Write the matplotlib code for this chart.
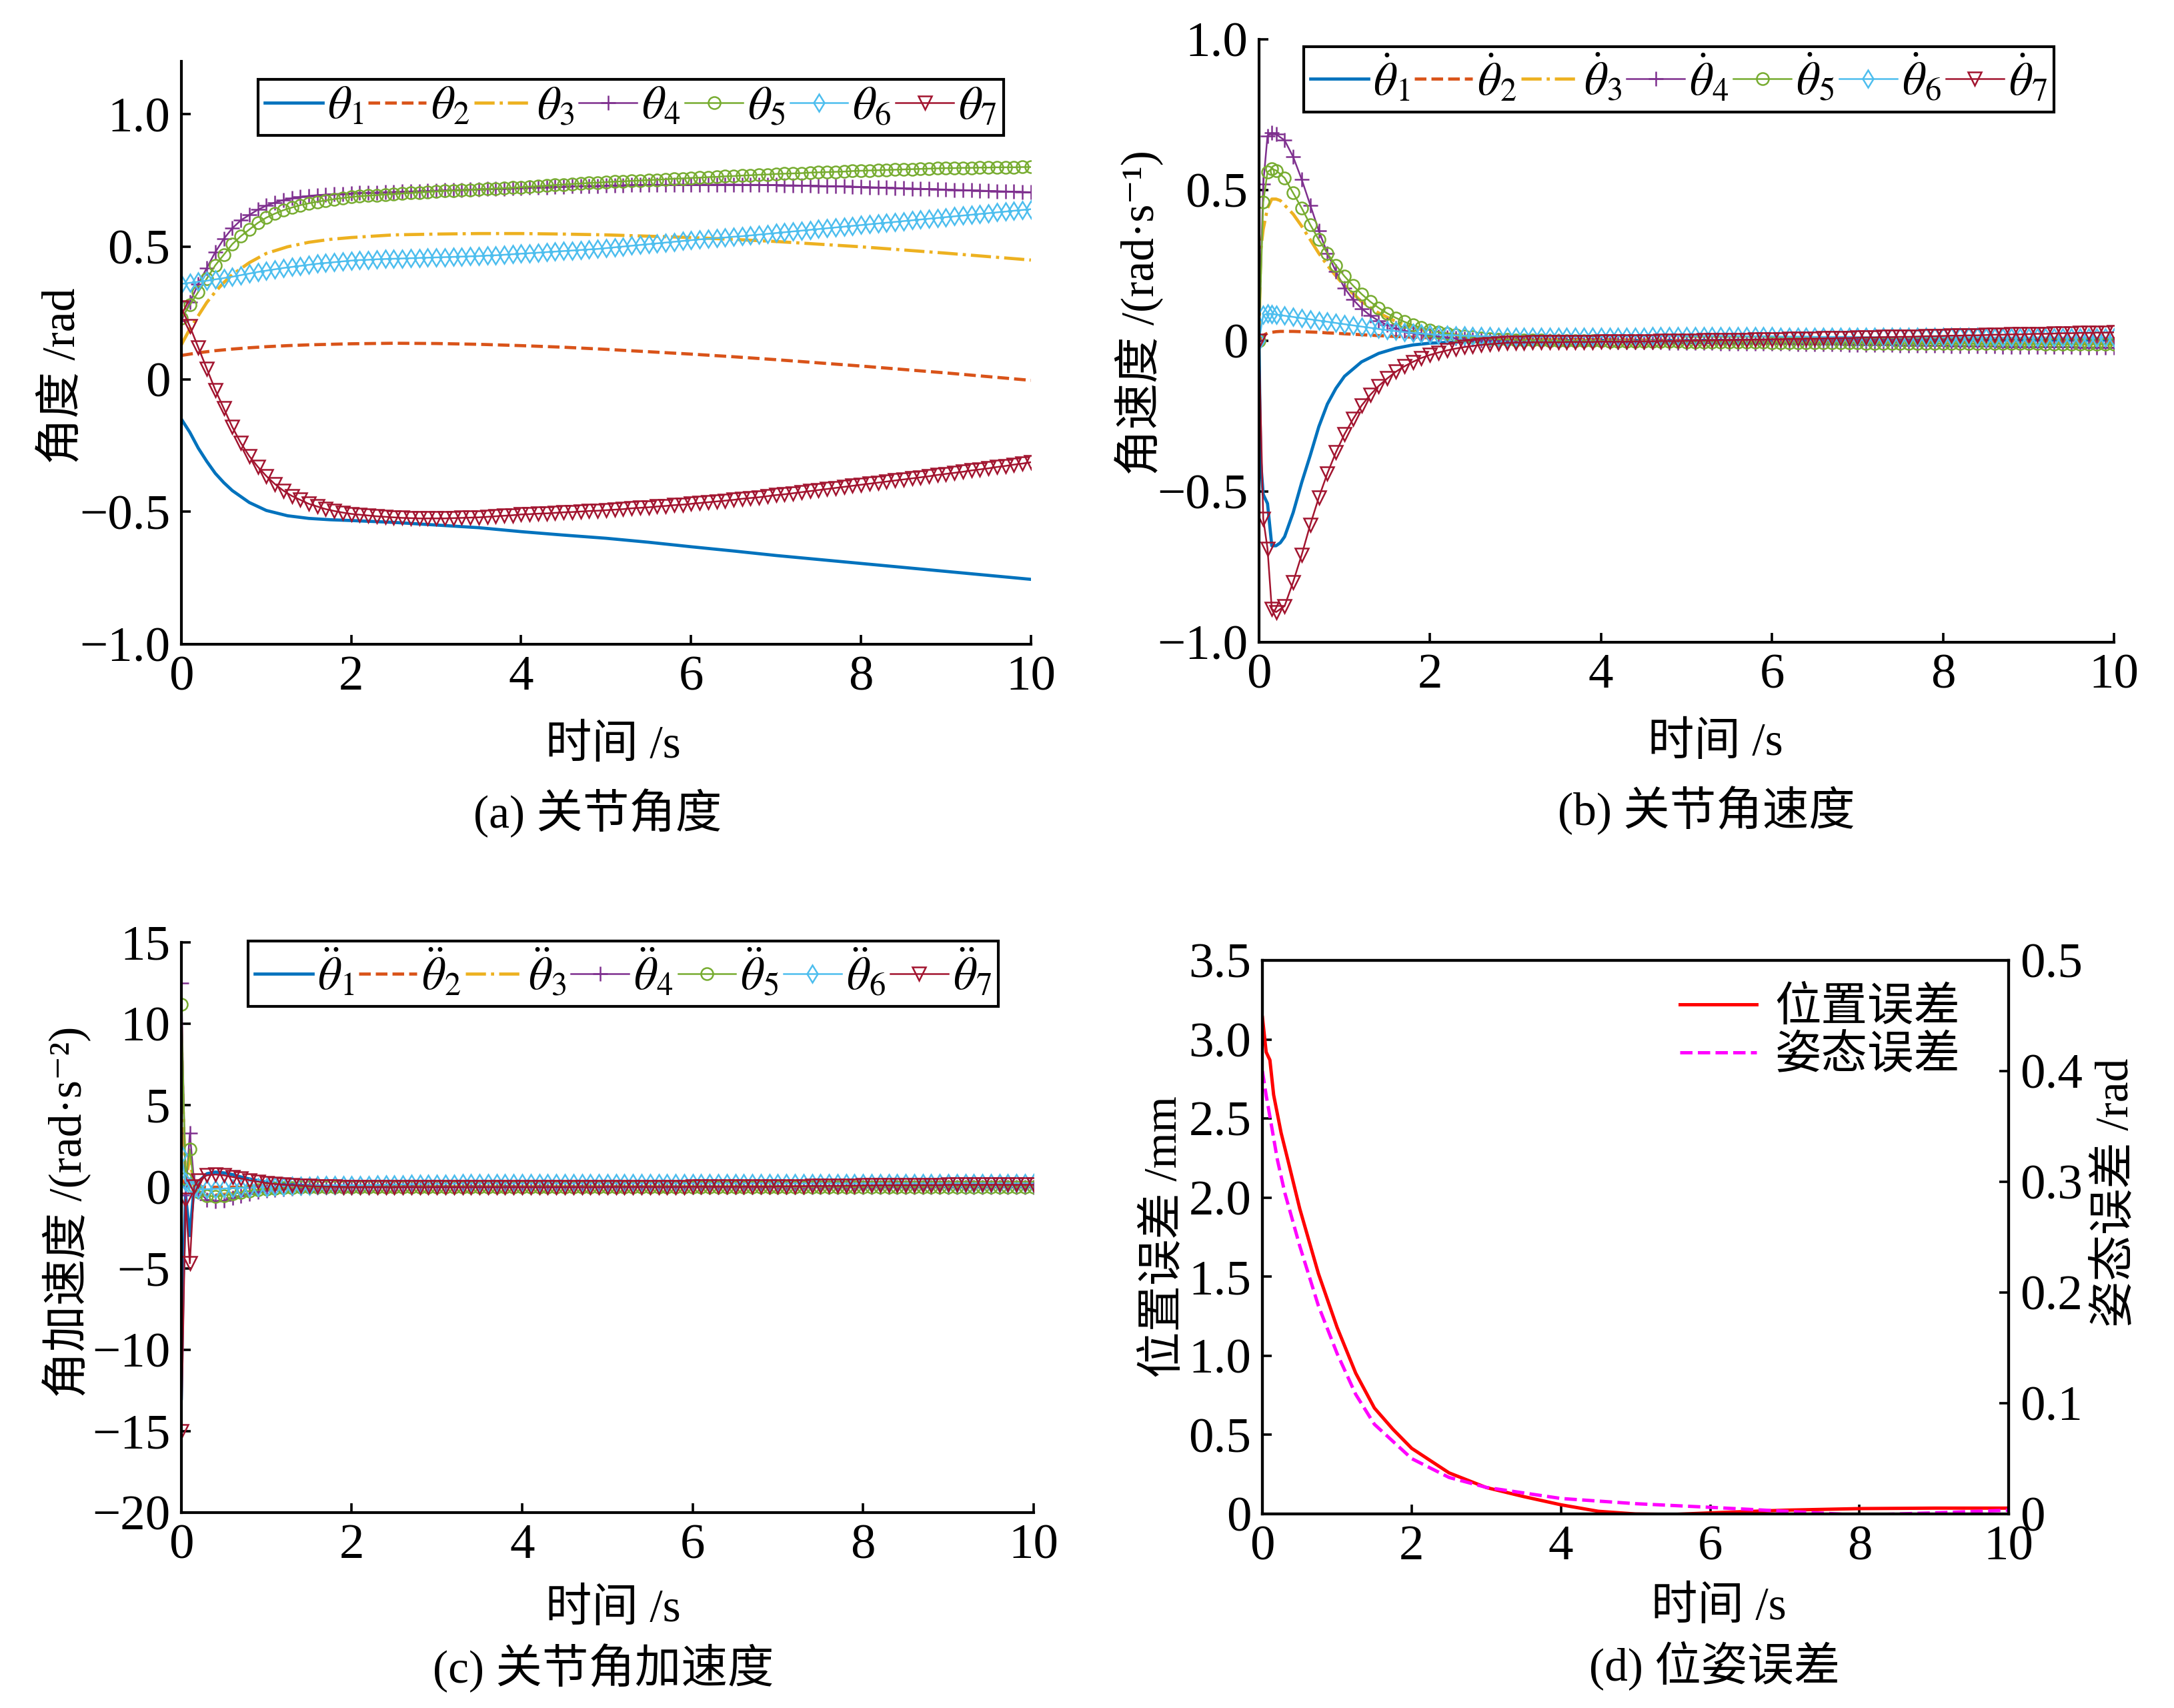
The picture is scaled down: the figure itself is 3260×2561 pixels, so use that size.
import numpy as np
import matplotlib
matplotlib.use("Agg")
import matplotlib.pyplot as plt
from matplotlib.ticker import FuncFormatter

plt.rcParams["font.family"] = ["Liberation Serif", "Noto Sans CJK SC", "DejaVu Serif"]
plt.rcParams["mathtext.fontset"] = "stix"

colors = ["#0072BD", "#D95319", "#EDB120", "#7E2F8E", "#77AC30", "#4DBEEE", "#A2142F"]

# ---------------- (a) joint angle ----------------
t_a_line = [0, 0.1, 0.2, 0.3, 0.4, 0.5, 0.6, 0.8, 1.0, 1.25, 1.5, 1.75, 2, 2.5, 3, 3.5,
            4, 4.5, 5, 5.5, 6, 6.5, 7, 7.5, 8, 8.5, 9, 9.5, 10]
a_th1 = [-0.15, -0.2, -0.26, -0.31, -0.355, -0.39, -0.42, -0.465, -0.495, -0.515, -0.525,
         -0.53, -0.533, -0.54, -0.55, -0.56, -0.575, -0.588, -0.6, -0.615, -0.632, -0.648,
         -0.665, -0.68, -0.695, -0.71, -0.725, -0.74, -0.755]
a_th2 = [0.09, 0.095, 0.1, 0.104, 0.108, 0.111, 0.114, 0.119, 0.123, 0.127, 0.13, 0.132,
         0.134, 0.136, 0.135, 0.132, 0.127, 0.121, 0.113, 0.104, 0.095, 0.085, 0.074, 0.062,
         0.05, 0.037, 0.024, 0.01, -0.004]
a_th3 = [0.13, 0.19, 0.24, 0.29, 0.33, 0.365, 0.395, 0.44, 0.475, 0.5, 0.517, 0.528, 0.535,
         0.545, 0.548, 0.55, 0.55, 0.548, 0.545, 0.54, 0.535, 0.528, 0.52, 0.51, 0.5, 0.488,
         0.476, 0.463, 0.45]

t_a = np.linspace(0, 10, 101)
a_th4 = [0.22, 0.29, 0.36, 0.42, 0.48, 0.53, 0.57, 0.60, 0.62, 0.64,
         0.655, 0.667, 0.676, 0.683, 0.688, 0.692, 0.695, 0.697, 0.699, 0.700,
         0.701, 0.703, 0.704, 0.705, 0.706, 0.707, 0.708, 0.709, 0.710, 0.711,
         0.712, 0.713, 0.714, 0.715, 0.716, 0.717, 0.718, 0.719, 0.720, 0.721,
         0.722, 0.723, 0.724, 0.725, 0.726, 0.727, 0.728, 0.729, 0.730, 0.730,
         0.731, 0.732, 0.732, 0.733, 0.733, 0.734, 0.734, 0.734, 0.735, 0.735,
         0.735, 0.735, 0.735, 0.735, 0.735, 0.735, 0.734, 0.734, 0.734, 0.733,
         0.733, 0.732, 0.732, 0.731, 0.731, 0.730, 0.729, 0.729, 0.728, 0.727,
         0.726, 0.725, 0.724, 0.723, 0.722, 0.721, 0.720, 0.719, 0.718, 0.717,
         0.716, 0.715, 0.714, 0.713, 0.712, 0.711, 0.710, 0.709, 0.708, 0.707,
         0.706]
a_th5 = [0.23, 0.28, 0.33, 0.38, 0.43, 0.47, 0.51, 0.54, 0.565, 0.59,
         0.61, 0.625, 0.638, 0.648, 0.657, 0.664, 0.670, 0.675, 0.680, 0.684,
         0.688, 0.691, 0.693, 0.695, 0.697, 0.699, 0.701, 0.703, 0.705, 0.707,
         0.709, 0.711, 0.712, 0.714, 0.715, 0.717, 0.718, 0.720, 0.721, 0.723,
         0.725, 0.727, 0.729, 0.731, 0.733, 0.735, 0.737, 0.739, 0.741, 0.742,
         0.744, 0.746, 0.747, 0.749, 0.750, 0.752, 0.753, 0.755, 0.757, 0.758,
         0.760, 0.761, 0.763, 0.764, 0.766, 0.767, 0.769, 0.770, 0.772, 0.773,
         0.775, 0.776, 0.777, 0.778, 0.780, 0.781, 0.782, 0.783, 0.784, 0.786,
         0.787, 0.788, 0.789, 0.790, 0.791, 0.792, 0.793, 0.794, 0.795, 0.796,
         0.797, 0.797, 0.798, 0.798, 0.799, 0.799, 0.800, 0.800, 0.800, 0.801,
         0.801]
a_th6 = [0.360, 0.364, 0.368, 0.372, 0.377, 0.382, 0.387, 0.393, 0.399, 0.405,
         0.410, 0.415, 0.420, 0.424, 0.428, 0.432, 0.436, 0.439, 0.442, 0.445,
         0.448, 0.450, 0.451, 0.453, 0.454, 0.455, 0.456, 0.457, 0.458, 0.459,
         0.460, 0.461, 0.462, 0.463, 0.464, 0.465, 0.467, 0.468, 0.470, 0.472,
         0.474, 0.476, 0.478, 0.480, 0.482, 0.484, 0.486, 0.488, 0.490, 0.492,
         0.495, 0.498, 0.501, 0.504, 0.507, 0.510, 0.513, 0.516, 0.519, 0.522,
         0.525, 0.528, 0.530, 0.533, 0.535, 0.538, 0.540, 0.543, 0.546, 0.549,
         0.552, 0.555, 0.558, 0.561, 0.564, 0.567, 0.570, 0.573, 0.576, 0.579,
         0.582, 0.585, 0.588, 0.591, 0.594, 0.597, 0.600, 0.603, 0.606, 0.609,
         0.612, 0.615, 0.618, 0.621, 0.624, 0.627, 0.630, 0.633, 0.636, 0.639,
         0.642]
a_th7 = [0.27, 0.20, 0.12, 0.04, -0.04, -0.11, -0.18, -0.24, -0.29, -0.33,
         -0.365, -0.395, -0.42, -0.44, -0.455, -0.47, -0.48, -0.49, -0.497, -0.503,
         -0.508, -0.511, -0.514, -0.517, -0.519, -0.521, -0.523, -0.524, -0.525, -0.525,
         -0.525, -0.525, -0.524, -0.523, -0.522, -0.521, -0.519, -0.517, -0.515, -0.513,
         -0.510, -0.509, -0.507, -0.506, -0.504, -0.502, -0.501, -0.499, -0.497, -0.496,
         -0.494, -0.492, -0.490, -0.487, -0.485, -0.483, -0.480, -0.478, -0.475, -0.473,
         -0.470, -0.467, -0.464, -0.461, -0.458, -0.455, -0.451, -0.448, -0.445, -0.441,
         -0.437, -0.434, -0.430, -0.426, -0.422, -0.418, -0.414, -0.410, -0.406, -0.402,
         -0.398, -0.394, -0.390, -0.386, -0.382, -0.378, -0.374, -0.370, -0.366, -0.361,
         -0.357, -0.353, -0.349, -0.344, -0.340, -0.336, -0.331, -0.327, -0.322, -0.318,
         -0.313]

# ---------------- (b) joint angular velocity ----------------
t_b_line = [0, 0.02, 0.05, 0.1, 0.15, 0.2, 0.25, 0.3, 0.4, 0.5, 0.6, 0.7, 0.8, 0.9, 1.0,
            1.2, 1.4, 1.6, 1.8, 2.0, 2.5, 3, 4, 5, 6, 7, 8, 9, 10]
b_th1 = [0.0, -0.40, -0.51, -0.54, -0.68, -0.68, -0.67, -0.65, -0.57, -0.47, -0.38, -0.285,
         -0.21, -0.158, -0.118, -0.07, -0.042, -0.025, -0.014, -0.008, -0.002, 0.0, 0.001,
         0.001, 0.002, 0.002, 0.002, 0.002, 0.002]
b_th2 = [0.0, 0.01, 0.018, 0.025, 0.028, 0.03, 0.031, 0.031, 0.031, 0.03, 0.029, 0.028,
         0.026, 0.025, 0.023, 0.02, 0.017, 0.014, 0.012, 0.01, 0.007, 0.005, 0.003, 0.001,
         0.0, -0.001, -0.002, -0.003, -0.004]
b_th3 = [0.0, 0.30, 0.37, 0.44, 0.47, 0.47, 0.465, 0.45, 0.42, 0.38, 0.335, 0.29, 0.25,
         0.215, 0.182, 0.13, 0.092, 0.064, 0.044, 0.03, 0.012, 0.005, 0.0, -0.002, -0.004,
         -0.006, -0.008, -0.01, -0.012]

t_b = np.r_[0, 0.05, 0.1, 0.15, np.linspace(0.2, 10, 99)]
b_th4 = [0.0, 0.52, 0.68, 0.69,
         0.685, 0.665, 0.61, 0.535, 0.45, 0.365, 0.29, 0.23,
         0.175, 0.137, 0.107, 0.084, 0.066, 0.052, 0.041, 0.033, 0.026, 0.021,
         0.017, 0.013, 0.010, 0.008, 0.006, 0.004, 0.003, 0.002, 0.001, 0.001,
         0.0, 0.0, 0.0, -0.001, -0.001, -0.001, -0.002, -0.002, -0.002, -0.003,
         -0.003, -0.003, -0.004, -0.004, -0.004, -0.005, -0.005, -0.005, -0.006, -0.006,
         -0.006, -0.007, -0.007, -0.007, -0.008, -0.008, -0.008, -0.009, -0.009, -0.009,
         -0.010, -0.010, -0.010, -0.011, -0.011, -0.011, -0.012, -0.012, -0.012, -0.013,
         -0.013, -0.013, -0.014, -0.014, -0.014, -0.015, -0.015, -0.015, -0.016, -0.016,
         -0.016, -0.017, -0.017, -0.017, -0.018, -0.018, -0.018, -0.019, -0.019, -0.019,
         -0.020, -0.020, -0.020, -0.021, -0.021, -0.021, -0.022, -0.022, -0.022, -0.022,
         -0.023]
b_th5 = [0.0, 0.46, 0.56, 0.57,
         0.565, 0.54, 0.49, 0.44, 0.385, 0.335, 0.29, 0.25,
         0.214, 0.183, 0.155, 0.13, 0.109, 0.091, 0.076, 0.063, 0.052, 0.043,
         0.035, 0.029, 0.024, 0.019, 0.015, 0.012, 0.009, 0.007, 0.005, 0.004,
         0.003, 0.002, 0.001, 0.001, 0.0, 0.0, 0.0, -0.001, -0.001, -0.001,
         -0.001, -0.002, -0.002, -0.002, -0.002, -0.003, -0.003, -0.003, -0.003, -0.003,
         -0.004, -0.004, -0.004, -0.004, -0.004, -0.005, -0.005, -0.005, -0.005, -0.005,
         -0.006, -0.006, -0.006, -0.006, -0.006, -0.007, -0.007, -0.007, -0.007, -0.007,
         -0.007, -0.008, -0.008, -0.008, -0.008, -0.008, -0.008, -0.009, -0.009, -0.009,
         -0.009, -0.009, -0.009, -0.009, -0.010, -0.010, -0.010, -0.010, -0.010, -0.010,
         -0.010, -0.010, -0.011, -0.011, -0.011, -0.011, -0.011, -0.011, -0.011, -0.011,
         -0.011]
b_th6 = [0.0, 0.085, 0.09, 0.089,
         0.087, 0.083, 0.079, 0.075, 0.071, 0.067, 0.063, 0.059,
         0.055, 0.051, 0.047, 0.043, 0.039, 0.035, 0.032, 0.029, 0.026, 0.024,
         0.022, 0.020, 0.019, 0.018, 0.017, 0.016, 0.015, 0.015, 0.014, 0.014,
         0.013, 0.013, 0.013, 0.013, 0.013, 0.013, 0.013, 0.013, 0.013, 0.013,
         0.013, 0.013, 0.014, 0.014, 0.014, 0.014, 0.015, 0.015, 0.015, 0.015,
         0.015, 0.016, 0.016, 0.016, 0.016, 0.016, 0.016, 0.015, 0.015, 0.015,
         0.015, 0.014, 0.014, 0.014, 0.014, 0.013, 0.013, 0.013, 0.013, 0.013,
         0.012, 0.012, 0.012, 0.012, 0.012, 0.012, 0.012, 0.012, 0.012, 0.012,
         0.012, 0.012, 0.012, 0.012, 0.012, 0.011, 0.011, 0.011, 0.011, 0.011,
         0.011, 0.011, 0.011, 0.011, 0.011, 0.011, 0.011, 0.011, 0.011, 0.011,
         0.011]
b_th7 = [0.0, -0.59, -0.69, -0.89,
         -0.90, -0.88, -0.80, -0.71, -0.61, -0.52, -0.44, -0.37,
         -0.31, -0.26, -0.215, -0.18, -0.15, -0.125, -0.103, -0.085, -0.07, -0.057,
         -0.047, -0.039, -0.032, -0.026, -0.021, -0.017, -0.014, -0.011, -0.009, -0.007,
         -0.006, -0.006, -0.005, -0.005, -0.005, -0.005, -0.004, -0.004, -0.004, -0.004,
         -0.003, -0.003, -0.003, -0.003, -0.002, -0.002, -0.002, -0.001, -0.001, -0.001,
         0.000, 0.000, 0.001, 0.001, 0.002, 0.002, 0.003, 0.003, 0.004, 0.004,
         0.005, 0.005, 0.006, 0.006, 0.007, 0.007, 0.008, 0.008, 0.009, 0.009,
         0.010, 0.011, 0.011, 0.012, 0.012, 0.013, 0.013, 0.014, 0.015, 0.015,
         0.016, 0.017, 0.017, 0.018, 0.018, 0.019, 0.020, 0.020, 0.021, 0.021,
         0.022, 0.023, 0.023, 0.024, 0.025, 0.025, 0.026, 0.026, 0.027, 0.027,
         0.028]

# ---------------- (c) joint angular acceleration ----------------
t_c_line = [0, 0.02, 0.05, 0.1, 0.15, 0.2, 0.3, 0.4, 0.5, 0.6, 0.7, 0.8, 0.9, 1.0, 1.2,
            1.4, 1.6, 2.0, 2.5, 3, 4, 5, 6, 7, 8, 9, 10]
c_th1 = [-13.0, -6.0, -0.5, -3.0, 0.0, 0.3, 0.8, 0.9, 0.85, 0.75, 0.6, 0.48, 0.37, 0.28,
         0.16, 0.09, 0.05, 0.02, 0.01, 0.0, 0.0, 0.0, 0.0, 0.0, 0.0, 0.0, 0.0]
c_th2 = [0.5, 0.3, 0.1, 0.05, 0.02, 0.0, -0.02, -0.03, -0.03, -0.03, -0.03, -0.03, -0.02,
         -0.02, -0.02, -0.01, -0.01, -0.01, -0.01, 0.0, 0.0, 0.0, 0.0, 0.0, 0.0, 0.0, 0.0]
c_th3 = [9.8, 5.0, 0.3, 1.8, 0.0, -0.3, -0.5, -0.5, -0.45, -0.4, -0.33, -0.27, -0.22,
         -0.18, -0.11, -0.07, -0.045, -0.02, -0.01, 0.0, 0.0, 0.0, 0.0, 0.0, 0.0, 0.0, 0.0]

t_c = t_b
c_th4 = [12.5, -0.5, 3.3, 0.3,
         -0.3, -0.8, -0.9, -0.85, -0.7, -0.55, -0.42, -0.32,
         -0.24, -0.18, -0.13, -0.09, -0.06, -0.04, -0.03, -0.02, -0.02, -0.01,
         -0.01, -0.01, -0.01, -0.01, -0.01, -0.01, -0.01, -0.01, -0.01, -0.01,
         -0.01, -0.01, -0.01, -0.01, -0.01, -0.01, -0.01, -0.01, -0.01, -0.01,
         -0.01, -0.01, -0.01, -0.01, -0.01, -0.01, -0.01, -0.01, -0.01, -0.01,
         -0.01, -0.01, -0.01, -0.01, -0.01, -0.01, -0.01, -0.01, -0.01, -0.01,
         -0.01, -0.01, -0.01, -0.01, -0.01, -0.01, -0.01, -0.01, -0.01, -0.01,
         -0.01, -0.01, -0.01, -0.01, -0.01, -0.01, -0.01, -0.01, -0.01, -0.01,
         -0.01, -0.01, -0.01, -0.01, -0.01, -0.01, -0.01, -0.01, -0.01, -0.01,
         -0.01, -0.01, -0.01, -0.01, -0.01, -0.01, -0.01, -0.01, -0.01, -0.01,
         -0.01]
c_th5 = [11.2, 0.5, 2.3, 0.0,
         -0.3, -0.55, -0.6, -0.55, -0.45, -0.35, -0.27, -0.2,
         -0.15, -0.11, -0.08, -0.06, -0.045, -0.035, -0.03, -0.025, -0.02, -0.02,
         -0.02, -0.02, -0.02, -0.02, -0.02, -0.02, -0.02, -0.02, -0.02, -0.02,
         -0.02, -0.02, -0.02, -0.02, -0.02, -0.02, -0.02, -0.02, -0.02, -0.02,
         -0.02, -0.02, -0.02, -0.02, -0.02, -0.02, -0.02, -0.02, -0.02, -0.02,
         -0.02, -0.02, -0.02, -0.02, -0.02, -0.02, -0.02, -0.02, -0.02, -0.02,
         -0.02, -0.02, -0.02, -0.02, -0.02, -0.02, -0.02, -0.02, -0.02, -0.02,
         -0.02, -0.02, -0.02, -0.02, -0.02, -0.02, -0.02, -0.02, -0.02, -0.02,
         -0.02, -0.02, -0.02, -0.02, -0.02, -0.02, -0.02, -0.02, -0.02, -0.02,
         -0.02, -0.02, -0.02, -0.02, -0.02, -0.02, -0.02, -0.02, -0.02, -0.02,
         -0.02]
c_th6 = [2.0, 0.3, 0.0, -0.1,
         -0.15, -0.15, -0.13, -0.11, -0.09, -0.07, -0.05, -0.03,
         -0.01, 0.01, 0.03, 0.05, 0.06, 0.07, 0.08, 0.09, 0.1, 0.1,
         0.1, 0.1, 0.11, 0.12, 0.13, 0.14, 0.15, 0.16, 0.17, 0.18,
         0.18, 0.19, 0.19, 0.2, 0.2, 0.2, 0.2, 0.2, 0.2, 0.2,
         0.2, 0.2, 0.2, 0.2, 0.2, 0.2, 0.2, 0.2, 0.2, 0.2,
         0.2, 0.2, 0.2, 0.2, 0.2, 0.2, 0.2, 0.2, 0.2, 0.2,
         0.2, 0.2, 0.2, 0.2, 0.2, 0.2, 0.2, 0.2, 0.2, 0.2,
         0.2, 0.2, 0.2, 0.2, 0.2, 0.2, 0.2, 0.2, 0.2, 0.2,
         0.2, 0.2, 0.2, 0.2, 0.2, 0.2, 0.2, 0.2, 0.2, 0.2,
         0.2, 0.2, 0.2, 0.2, 0.2, 0.2, 0.2, 0.2, 0.2, 0.2,
         0.2]
c_th7 = [-15.0, -0.8, -4.7, 0.0,
         0.4, 0.7, 0.75, 0.7, 0.6, 0.5, 0.4, 0.31,
         0.23, 0.17, 0.12, 0.09, 0.06, 0.04, 0.02, 0.01, 0.0, -0.01,
         -0.02, -0.02, -0.02, -0.02, -0.02, -0.02, -0.02, -0.02, -0.02, -0.02,
         -0.02, -0.02, -0.02, -0.02, -0.02, -0.02, -0.02, -0.02, -0.02, -0.02,
         -0.02, -0.02, -0.02, -0.02, -0.02, -0.02, -0.02, -0.02, -0.02, -0.02,
         -0.01, -0.01, -0.01, -0.01, -0.01, -0.01, -0.01, -0.01, -0.01, -0.01,
         0.0, 0.0, 0.0, 0.0, 0.0, 0.0, 0.0, 0.0, 0.0, 0.0,
         0.02, 0.02, 0.03, 0.03, 0.04, 0.04, 0.05, 0.05, 0.06, 0.06,
         0.08, 0.08, 0.09, 0.09, 0.1, 0.1, 0.1, 0.1, 0.1, 0.1,
         0.12, 0.12, 0.12, 0.12, 0.12, 0.12, 0.12, 0.12, 0.12, 0.12,
         0.12]

# ---------------- (d) pose error ----------------
t_pos = [0, 0.05, 0.1, 0.15, 0.25, 0.35, 0.5, 0.75, 1.0, 1.25, 1.5, 1.75, 2.0, 2.5, 3.0,
         3.5, 4.0, 4.5, 5.0, 5.5, 6.0, 7.0, 8.0, 9.0, 10.0]
pos_err = [3.14, 2.92, 2.87, 2.65, 2.41, 2.22, 1.93, 1.52, 1.18, 0.89, 0.67, 0.535, 0.415,
           0.26, 0.167, 0.11, 0.058, 0.017, 0.0, -0.003, 0.007, 0.024, 0.034, 0.037, 0.037]
t_att = [0, 0.05, 0.1, 0.2, 0.3, 0.5, 0.75, 1.0, 1.25, 1.5, 2.0, 2.5, 3.0, 3.5, 4.0, 5.0,
         6.0, 7.0, 8.0, 9.0, 10.0]
att_err = [0.40, 0.378, 0.359, 0.32, 0.29, 0.242, 0.188, 0.145, 0.108, 0.081, 0.05, 0.033,
           0.024, 0.019, 0.014, 0.0093, 0.006, 0.0025, -0.001, 0.001, 0.0034]

TICK_FS = 27
LABEL_FS = 25
LEG_FS = 25


def fmt1(v, pos):
    if abs(v) < 1e-9:
        return "0"
    return f"{v:.1f}".replace("-", "\u2212")


def fmt0(v, pos):
    if abs(v) < 1e-9:
        return "0"
    return f"{v:.0f}".replace("-", "\u2212")


def style_axes(ax, open_box=True):
    for s in ax.spines.values():
        s.set_linewidth(1.5)
    if open_box:
        ax.spines["top"].set_visible(False)
        ax.spines["right"].set_visible(False)
    ax.tick_params(direction="in", length=5, width=1.3, labelsize=TICK_FS, pad=6,
                   top=False, right=False)
    ax.set_xlim(0, 10)
    ax.set_xticks([0, 2, 4, 6, 8, 10])
    ax.xaxis.set_major_formatter(FuncFormatter(fmt0))


def put_labels(ax, ylab, ypos, xpos, cap, cpos):
    ax.text(ypos[0], ypos[1], ylab, transform=ax.transAxes, fontsize=LABEL_FS,
            rotation=90, ha="center", va="center")
    ax.text(xpos[0], xpos[1], "时间 /s", transform=ax.transAxes, fontsize=LABEL_FS,
            ha="center", va="center")
    ax.text(cpos[0], cpos[1], cap, transform=ax.transAxes, fontsize=LABEL_FS,
            ha="center", va="center")


markers = [("+", 8), ("o", 6.5), ("d", 6.5), ("v", 7.5)]
line_ls = ["-", "--", "-."]


def draw_joints(ax, sym, t_line, lines, t_mark, marks):
    for i, y in enumerate(lines):
        ax.plot(t_line, y, color=colors[i], ls=line_ls[i], lw=1.7,
                label=rf"${sym}_{i + 1}$")
    for j, y in enumerate(marks):
        m, ms = markers[j]
        ax.plot(t_mark, y, color=colors[j + 3], lw=0.9, marker=m, ms=ms, mfc="none",
                mew=0.9, label=rf"${sym}_{j + 4}$")


def joint_legend(ax, anchor):
    leg = ax.legend(loc="upper left", bbox_to_anchor=anchor, ncol=7, fontsize=LEG_FS,
                    handlelength=1.25, handletextpad=0.1, columnspacing=0.1,
                    borderpad=0.15, borderaxespad=0, fancybox=False, edgecolor="black",
                    framealpha=1)
    leg.get_frame().set_linewidth(1.5)


fig = plt.figure(figsize=(16.3, 12.805), dpi=200)
ax_a = fig.add_axes([0.0834, 0.6228, 0.3908, 0.3413])
ax_b = fig.add_axes([0.5791, 0.624, 0.3933, 0.353])
ax_c = fig.add_axes([0.0834, 0.1144, 0.392, 0.3339])
ax_d = fig.add_axes([0.5807, 0.1136, 0.3433, 0.3241])

# (a)
draw_joints(ax_a, r"\theta", t_a_line, [a_th1, a_th2, a_th3], t_a,
            [a_th4, a_th5, a_th6, a_th7])
style_axes(ax_a)
ax_a.set_ylim(-1, 1.2)
ax_a.set_yticks([-1, -0.5, 0, 0.5, 1.0])
ax_a.yaxis.set_major_formatter(FuncFormatter(fmt1))
joint_legend(ax_a, (0.09, 0.969))
put_labels(ax_a, "角度 /rad", (-0.139, 0.46), (0.508, -0.175),
           "(a) 关节角度", (0.49, -0.29))

# (b)
draw_joints(ax_b, r"\dot{\theta}", t_b_line, [b_th1, b_th2, b_th3], t_b,
            [b_th4, b_th5, b_th6, b_th7])
style_axes(ax_b)
ax_b.set_ylim(-1, 1)
ax_b.set_yticks([-1, -0.5, 0, 0.5, 1.0])
ax_b.yaxis.set_major_formatter(FuncFormatter(fmt1))
joint_legend(ax_b, (0.052, 0.988))
put_labels(ax_b, "角速度 /(rad·s\u207b\u00b9)", (-0.14, 0.546), (0.534, -0.168),
           "(b) 关节角速度", (0.523, -0.279))

# (c)
draw_joints(ax_c, r"\ddot{\theta}", t_c_line, [c_th1, c_th2, c_th3], t_c,
            [c_th4, c_th5, c_th6, c_th7])
style_axes(ax_c)
ax_c.set_ylim(-20, 15)
ax_c.set_yticks([-20, -15, -10, -5, 0, 5, 10, 15])
ax_c.yaxis.set_major_formatter(FuncFormatter(fmt0))
joint_legend(ax_c, (0.078, 1.002))
put_labels(ax_c, "角加速度 /(rad·s\u207b\u00b2)", (-0.134, 0.527), (0.507, -0.171),
           "(c) 关节角加速度", (0.495, -0.273))

# (d)
ax_d2 = ax_d.twinx()
l1, = ax_d.plot(t_pos, pos_err, color="#FF0000", lw=1.8, label="位置误差")
l2, = ax_d2.plot(t_att, att_err, color="#FF00FF", lw=1.8, ls="--", label="姿态误差")
style_axes(ax_d, open_box=False)
ax_d.set_ylim(0, 3.5)
ax_d.set_yticks([0, 0.5, 1.0, 1.5, 2.0, 2.5, 3.0, 3.5])
ax_d.yaxis.set_major_formatter(FuncFormatter(fmt1))
ax_d2.set_ylim(0, 0.5)
ax_d2.set_yticks([0, 0.1, 0.2, 0.3, 0.4, 0.5])
ax_d2.yaxis.set_major_formatter(FuncFormatter(fmt1))
ax_d2.tick_params(direction="in", length=5, width=1.3, labelsize=TICK_FS, pad=6)
for s in ax_d2.spines.values():
    s.set_linewidth(1.5)
put_labels(ax_d, "位置误差 /mm", (-0.131, 0.5), (0.611, -0.17),
           "(d) 位姿误差", (0.606, -0.275))
ax_d.text(1.144, 0.58, "姿态误差 /rad", transform=ax_d.transAxes, fontsize=LABEL_FS,
          rotation=90, ha="center", va="center")
ax_d2.legend([l1, l2], ["位置误差", "姿态误差"], loc="upper right",
             bbox_to_anchor=(0.96, 0.985), frameon=False, fontsize=LEG_FS,
             handlelength=1.65, handletextpad=0.4, labelspacing=0.1, borderaxespad=0)

fig.savefig("out.png", dpi=200)
